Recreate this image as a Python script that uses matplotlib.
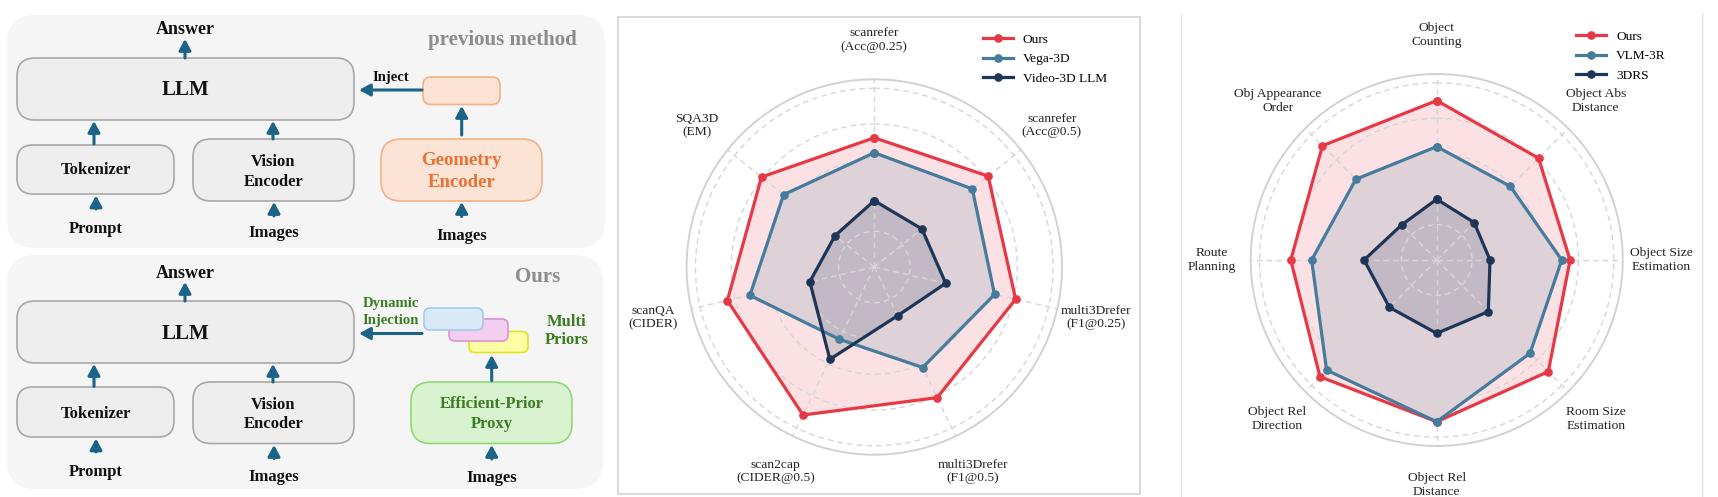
import numpy as np
import matplotlib
matplotlib.use("Agg")
import matplotlib.pyplot as plt
from matplotlib.patches import FancyBboxPatch, Rectangle

plt.rcParams['font.family'] = ['Liberation Serif', 'DejaVu Serif']

# ---------------- data ----------------
cats_3d = ['scanrefer\n(Acc@0.25)', 'scanrefer\n(Acc@0.5)', 'multi3Drefer\n(F1@0.25)',
           'multi3Drefer\n(F1@0.5)', 'scan2cap\n(CIDER@0.5)', 'scanQA\n(CIDER)', 'SQA3D\n(EM)']
ours_3d = [0.723, 0.815, 0.811, 0.811, 0.919, 0.843, 0.807]
vega_3d = [0.639, 0.701, 0.690, 0.624, 0.449, 0.714, 0.649]
video3dllm = [0.371, 0.341, 0.410, 0.302, 0.573, 0.370, 0.281]
names_3d = ['Ours', 'Vega-3D', 'Video-3D LLM']

cats_vsi = ['Object\nCounting', 'Object Abs\nDistance', 'Object Size\nEstimation', 'Room Size\nEstimation',
            'Object Rel\nDistance', 'Object Rel\nDirection', 'Route\nPlanning', 'Obj Appearance\nOrder']
ours_vsi = [0.900, 0.813, 0.753, 0.891, 0.913, 0.932, 0.824, 0.912]
vlm3r = [0.640, 0.588, 0.706, 0.745, 0.913, 0.879, 0.706, 0.645]
drs3 = [0.343, 0.299, 0.301, 0.412, 0.414, 0.378, 0.410, 0.280]
names_vsi = ['Ours', 'VLM-3R', '3DRS']

colors = ['#E63946', '#457B9D', '#1D3557']

W, H = 1718, 497
fig = plt.figure(figsize=(W / 100, H / 100), dpi=100)

# ---------------- background / diagram axes (pixel coordinates) ----------------
bg = fig.add_axes([0, 0, 1, 1])
bg.set_xlim(0, W)
bg.set_ylim(H, 0)
bg.axis('off')

AC = '#1b6388'
TXT = '#111111'
GRAY = '#8c8c8c'
ORANGE = '#E97132'
GREEN = '#3A7D22'


def rbox(x0, y0, x1, y1, fc, ec, r, lw=1.2, z=1):
    p = FancyBboxPatch((x0, y0), x1 - x0, y1 - y0,
                       boxstyle=f"round,pad=0,rounding_size={r}",
                       fc=fc, ec=ec, lw=lw, zorder=z)
    bg.add_patch(p)


def arrow(x0, y0, x1, y1):
    bg.annotate('', xy=(x1, y1), xytext=(x0, y0),
                arrowprops=dict(arrowstyle='-|>,head_length=0.55,head_width=0.3',
                                lw=2.2, color=AC, shrinkA=0, shrinkB=0,
                                mutation_scale=12), zorder=3)


def txt(x, y, s, size=12, color=TXT, weight='bold'):
    bg.text(x, y, s, ha='center', va='center', fontsize=size, color=color,
            fontweight=weight, zorder=4)


BOXF, BOXE = '#eeeeee', '#a8a8a8'

# panels
rbox(7, 15, 605, 248, '#f5f5f5', 'none', 28, lw=0, z=0.5)
rbox(7, 255, 603, 489, '#f5f5f5', 'none', 28, lw=0, z=0.5)

# ---- top panel: previous method ----
txt(185, 30, 'Answer', 13)
arrow(185, 58, 185, 39)
rbox(17, 58, 354, 120, BOXF, BOXE, 18)
txt(185, 90, 'LLM', 15)
arrow(94, 144, 94, 121)
rbox(17, 145, 174, 194, BOXF, BOXE, 16)
txt(96, 170, 'Tokenizer', 12)
arrow(96, 209, 96, 195.5)
txt(96, 229, 'Prompt', 12)
arrow(273, 139, 273, 121)
rbox(193, 139, 354, 201, BOXF, BOXE, 18)
txt(273.5, 162, 'Vision', 12)
txt(273.5, 181.5, 'Encoder', 12)
arrow(274, 216, 274, 202)
txt(274, 233, 'Images', 12)
txt(502, 40.5, 'previous method', 15, GRAY)
arrow(422, 90, 359, 90)
txt(390.5, 78, 'Inject', 10.6)
rbox(423, 77, 500, 104.5, '#fbe3d6', '#f4b183', 8)
arrow(461.7, 135, 461.7, 106)
rbox(381, 139, 542, 201, '#fbe3d6', '#f4b183', 20)
txt(461.7, 160.5, 'Geometry', 13.5, ORANGE)
txt(461.7, 182.5, 'Encoder', 13.5, ORANGE)
arrow(461.7, 216.5, 461.7, 202)
txt(461.7, 236, 'Images', 12)

# ---- bottom panel: ours ----
txt(185, 274, 'Answer', 13)
arrow(185, 301, 185, 282)
rbox(17, 301, 354, 363, BOXF, BOXE, 18)
txt(185, 334, 'LLM', 15)
arrow(94, 386.5, 94, 364)
rbox(17, 387, 174, 437, BOXF, BOXE, 16)
txt(96, 414, 'Tokenizer', 12)
arrow(96, 452, 96, 438.5)
txt(96, 471.5, 'Prompt', 12)
arrow(273, 382, 273, 364)
rbox(193, 382, 354, 443.5, BOXF, BOXE, 18)
txt(273.5, 405, 'Vision', 12)
txt(273.5, 424, 'Encoder', 12)
arrow(274, 458.5, 274, 445)
txt(274, 477, 'Images', 12)
txt(538, 276.5, 'Ours', 15, GRAY)
arrow(422, 333.5, 359, 333.5)
txt(390.5, 303, 'Dynamic', 10.6, GREEN)
txt(390.5, 320.5, 'Injection', 10.6, GREEN)
rbox(469, 331.5, 528, 352.5, '#fdfda6', '#e3e31a', 6, z=1.1)
rbox(449, 319, 508, 341, '#f2cfee', '#e08fd8', 6, z=1.2)
rbox(424, 308, 483, 330, '#dae9f8', '#a6caec', 6, z=1.3)
txt(566.5, 321.5, 'Multi', 12, GREEN)
txt(566.5, 340, 'Priors', 12, GREEN)
arrow(491.7, 380.5, 491.7, 355)
rbox(411, 382, 572, 443.5, '#d9f2d0', '#8ed973', 20)
txt(491.7, 404, 'Efficient-Prior', 12, GREEN)
txt(491.7, 424, 'Proxy', 12, GREEN)
arrow(491.7, 459, 491.7, 445)
txt(491.7, 478, 'Images', 12)

# frames around the radar charts
bg.add_patch(Rectangle((618, 16.7), 522, 477.3, fill=False, ec='#d0d0d0', lw=1.1, zorder=0.5))
bg.plot([1181, 1181], [14, 497], color='#e3e3e3', lw=1.0, zorder=0.5)
bg.plot([1702, 1702], [13, 497], color='#e3e3e3', lw=1.0, zorder=0.5)


# ---------------- radar charts ----------------
def radar(cx, cy, R, cats, series, names, leg_xy):
    rect = [(cx - R) / W, (H - cy - R) / H, 2 * R / W, 2 * R / H]
    ax = fig.add_axes(rect, projection='polar')
    ax.set_zorder(2)
    n = len(cats)
    ang = np.linspace(0, 2 * np.pi, n, endpoint=False)
    ax.set_theta_offset(np.pi / 2)
    ax.set_theta_direction(-1)
    ax.set_ylim(0, 1.05)
    ax.set_xticks(ang)
    ax.set_xticklabels([])
    ax.set_yticks([0.2, 0.4, 0.6, 0.8, 1.0])
    ax.set_yticklabels([])
    ax.tick_params(length=0)
    ax.set_axisbelow(False)
    ax.grid(True, color='#d6d6d6', linestyle=(0, (4, 3)), lw=1.0)
    ax.spines['polar'].set_color('#d2d2d2')
    ax.spines['polar'].set_linewidth(1.4)
    a = np.concatenate([ang, ang[:1]])
    for vals, c in zip(series, colors):
        v = np.concatenate([vals, vals[:1]])
        ax.fill(a, v, color=c, alpha=0.15, lw=0, zorder=1)
    handles = []
    for vals, c, nm in zip(series, colors, names):
        v = np.concatenate([vals, vals[:1]])
        h, = ax.plot(a, v, color=c, lw=2.3, marker='o', ms=5.2, zorder=3,
                     label=nm, clip_on=False)
        handles.append(h)
    pitch = 9.9
    for t, cat in zip(ang, cats):
        lines = cat.split('\n')
        k = len(lines)
        for i, ln in enumerate(lines):
            off = ((k - 1) / 2 - i) * pitch
            ax.annotate(ln, xy=(t, 1.27), xytext=(0, off), textcoords='offset points',
                        ha='center', va='center', fontsize=9.7, color='#222222',
                        annotation_clip=False)
    ax.legend(handles=handles, loc='upper left',
              bbox_to_anchor=(leg_xy[0] / W, 1 - leg_xy[1] / H),
              bbox_transform=fig.transFigure, frameon=False, fontsize=9.6,
              handlelength=2.25, handletextpad=0.73, labelspacing=0.53,
              borderpad=0, borderaxespad=0)
    return ax


radar(874.3, 267.0, 187.7, cats_3d, [ours_3d, vega_3d, video3dllm], names_3d, (983, 33.7))
radar(1436.7, 260.0, 186.0, cats_vsi, [ours_vsi, vlm3r, drs3], names_vsi, (1576.4, 30.7))

fig.savefig('out.png', dpi=100)
